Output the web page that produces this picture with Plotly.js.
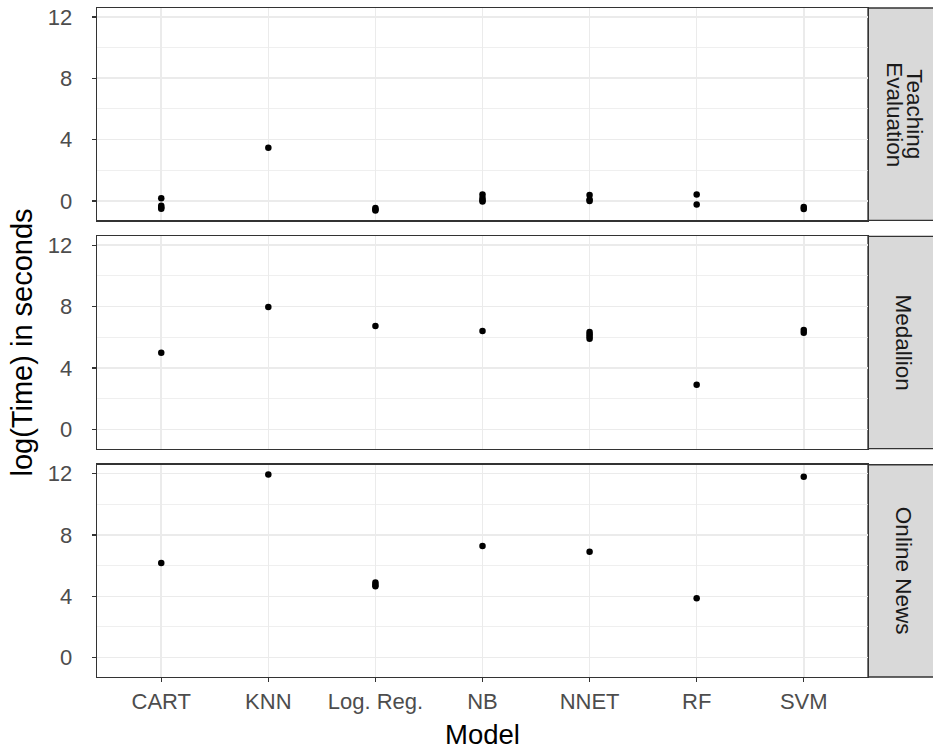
<!DOCTYPE html>
<html>
<head>
<meta charset="utf-8">
<script src="https://cdn.plot.ly/plotly-3.0.1.min.js"></script>
<style>html,body{margin:0;padding:0;background:#fff;}#chart{width:933px;height:750px;}</style>
</head>
<body>
<div id="chart"></div>
<script>
const categories = ["CART","KNN","Log. Reg.","NB","NNET","RF","SVM"];
const facetLabels = [["Teaching","Evaluation"],["Medallion"],["Online News"]];
const yTicks = [0,4,8,12];

const teachModel = ["CART","CART","CART","CART","KNN","Log. Reg.","Log. Reg.","Log. Reg.","NB","NB","NB","NB","NNET","NNET","NNET","RF","RF","SVM","SVM"];
const teachTime  = [0.18,-0.3,-0.42,-0.5, 3.48, -0.45,-0.55,-0.62, 0.42,0.2,0.05,-0.02, 0.4,0.1,0.0, 0.42,-0.22, -0.38,-0.52];

const medModel = ["CART","KNN","Log. Reg.","NB","NNET","NNET","NNET","NNET","RF","SVM","SVM"];
const medTime  = [5.0, 7.98, 6.74, 6.42, 6.35,6.2,6.05,5.9, 2.9, 6.48,6.3];

const newsModel = ["CART","KNN","Log. Reg.","Log. Reg.","Log. Reg.","NB","NNET","RF","SVM"];
const newsTime  = [6.18, 11.95, 4.9,4.75,4.65, 7.28, 6.91, 3.87, 11.8];

const FONT = "Liberation Sans, Arial, sans-serif";
const marker = {color:"#000000", size:6.5};

const traces = [
  {x:teachModel, y:teachTime, xaxis:"x", yaxis:"y", type:"scatter", mode:"markers", marker:marker, hoverinfo:"x+y"},
  {x:medModel, y:medTime, xaxis:"x2", yaxis:"y2", type:"scatter", mode:"markers", marker:marker, hoverinfo:"x+y"},
  {x:newsModel, y:newsTime, xaxis:"x3", yaxis:"y3", type:"scatter", mode:"markers", marker:marker, hoverinfo:"x+y"}
];

const yr = [-1.26, 12.58];
function xax(anchor, showLabels){
  return {
    anchor: anchor, type:"category", categoryorder:"array", categoryarray:categories,
    range:[-0.6, 6.6], showgrid:true, gridcolor:"#EBEBEB", gridwidth:1.6,
    showline:true, mirror:true, linecolor:"#333333", linewidth:1.3,
    ticks: showLabels ? "outside" : "", ticklen:4, tickwidth:1.3, tickcolor:"#333333",
    showticklabels: showLabels,
    tickfont:{family:FONT, size:22, color:"#4D4D4D"},
    zeroline:false, fixedrange:true
  };
}
function yax(anchor, domain){
  return {
    anchor: anchor, domain: domain, range: yr, tickmode:"array", tickvals:yTicks,
    showgrid:true, gridcolor:"#EBEBEB", gridwidth:1.6,
    minor:{tickmode:"array", tickvals:[2,6,10], showgrid:true, gridcolor:"#EBEBEB", gridwidth:0.8, ticks:""},
    showline:true, mirror:true, linecolor:"#333333", linewidth:1.3,
    ticks:"outside", ticklen:4, tickwidth:1.3, tickcolor:"#333333",
    ticklabelstandoff: 15,
    tickfont:{family:FONT, size:22, color:"#4D4D4D"},
    zeroline:false, fixedrange:true
  };
}

const d3 = [0, 0.3173], d2 = [0.3413, 0.6586], d1 = [0.6825, 1];
const shapes = [];
const annotations = [];
const plotW = 771, plotL = 97;
const px = v => (v - plotL) / plotW;
[d1, d2, d3].forEach((d, i) => {
  shapes.push({type:"rect", xref:"paper", yref:"paper", x0:1, x1:1.12, y0:d[0], y1:d[1],
    fillcolor:"#D9D9D9", line:{color:"#333333", width:1.3}, layer:"below"});
  const lines = facetLabels[i];
  const centers = lines.length === 2 ? [915, 895] : [903];
  lines.forEach((t, j) => {
    annotations.push({xref:"paper", yref:"paper", x:px(centers[j]), y:(d[0]+d[1])/2, text:t,
      showarrow:false, textangle:90, font:{family:FONT, size:22.5, color:"#1A1A1A"},
      xanchor:"center", yanchor:"middle"});
  });
});
annotations.push({xref:"paper", yref:"paper", x:px(21), y:0.5, text:"log(Time) in seconds",
  showarrow:false, textangle:-90, font:{family:FONT, size:29, color:"#000000"}, xanchor:"center", yanchor:"middle"});
annotations.push({xref:"paper", yref:"paper", x:0.5, y:(677-734)/669, text:"Model", borderpad:0,
  showarrow:false, font:{family:FONT, size:27.5, color:"#000000"}, xanchor:"center", yanchor:"middle"});

const layout = {
  width:933, height:750,
  margin:{l:97, r:65, t:8, b:73},
  paper_bgcolor:"#ffffff", plot_bgcolor:"#ffffff",
  showlegend:false,
  font:{family:FONT},
  xaxis: xax("y", false),
  xaxis2: xax("y2", false),
  xaxis3: xax("y3", true),
  yaxis: yax("x", d1),
  yaxis2: yax("x2", d2),
  yaxis3: yax("x3", d3),
  shapes: shapes,
  annotations: annotations
};

Plotly.newPlot("chart", traces, layout, {displayModeBar:false, staticPlot:true});
</script>
</body>
</html>
